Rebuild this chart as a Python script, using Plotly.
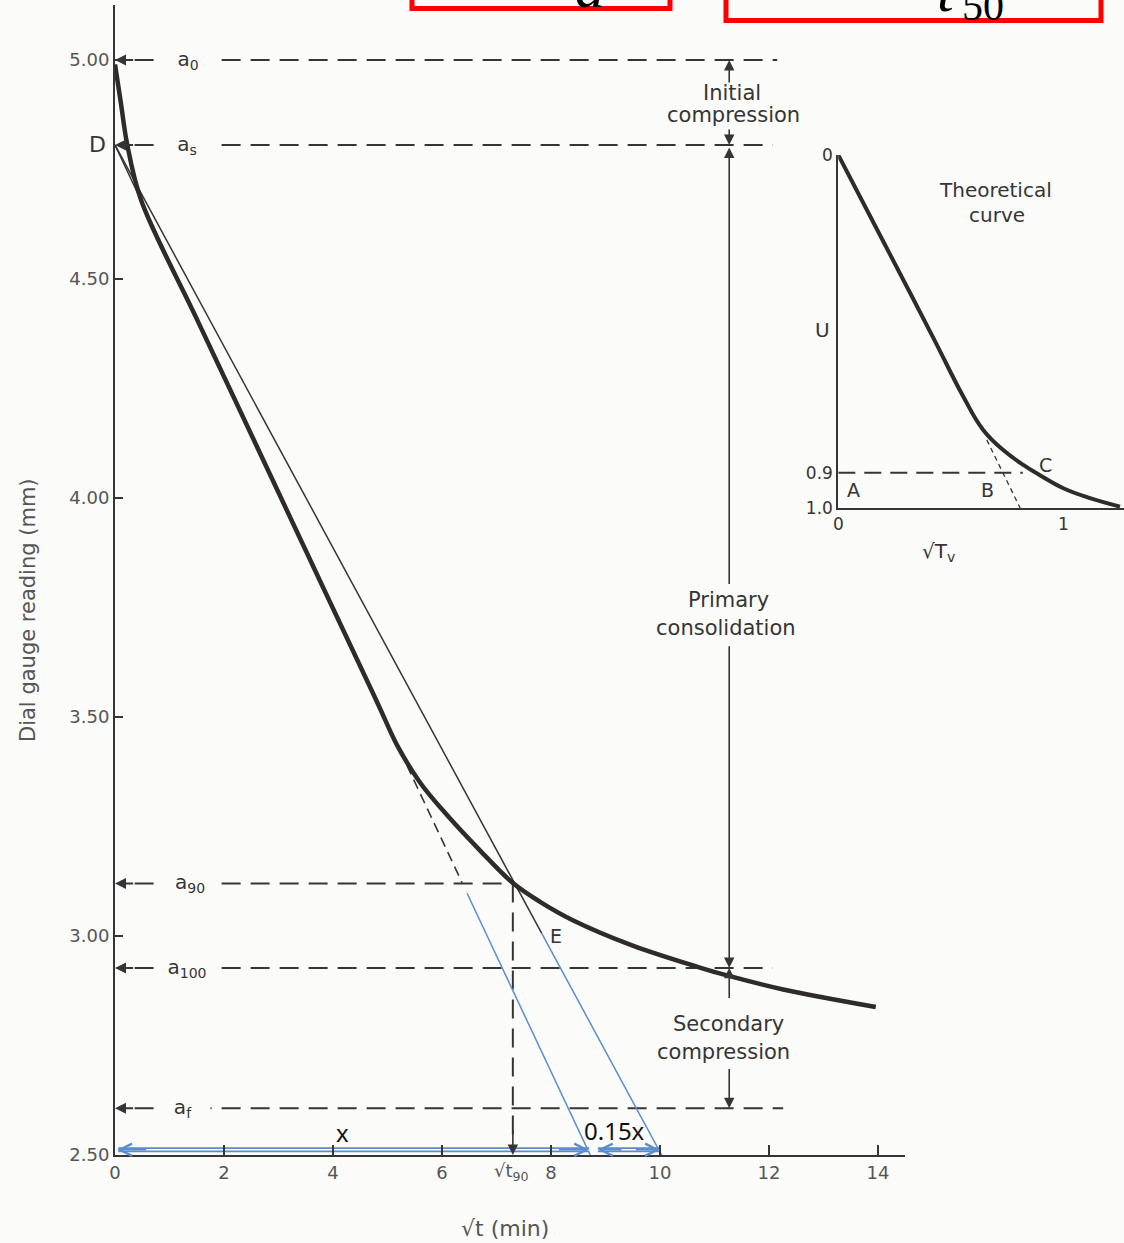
import plotly.graph_objects as go

W, H = 1124, 1243
BG = "#fbfbf9"
INK = "#353535"
GREY = "#555555"
BLUE = "#5b8ccc"
FONT = "DejaVu Sans"

# ---------------- main chart data ----------------
x_ticks = [0, 2, 4, 6, 8, 10, 12, 14]
x_tick_text = ["0", "2", "4", "6", "8", "10", "12", "14"]
y_ticks = [2.5, 3.0, 3.5, 4.0, 4.5, 5.0]
y_tick_text = ["2.50", "3.00", "3.50", "4.00", "4.50", "5.00"]

# dial gauge reading (mm) vs sqrt(t) (min)
curve_x = [0.0, 0.11, 0.22, 0.48, 1.5, 2.5, 3.5, 4.5, 4.85, 5.17, 5.60, 6.10, 6.70,
           7.30, 7.80, 8.40, 9.50, 10.73, 11.23, 12.26, 13.96]
curve_y = [4.99, 4.90, 4.81, 4.68, 4.409, 4.145, 3.88, 3.616, 3.523, 3.437, 3.350, 3.275, 3.195,
           3.121, 3.078, 3.036, 2.978, 2.928, 2.910, 2.878, 2.838]

level_names = ["a<sub>0</sub>", "a<sub>s</sub>", "a<sub>90</sub>", "a<sub>100</sub>", "a<sub>f</sub>"]
level_values = [5.00, 4.806, 3.12, 2.927, 2.607]
level_ends = [12.15, 12.07, 7.34, 12.07, 12.26]
level_label_x = [1.34, 1.32, 1.38, 1.32, 1.25]

D_reading = 4.806          # corrected zero point D
line1_axis_x = 8.72        # first straight line meets the time axis (x)
line2_axis_x = 10.03       # second line, abscissae 1.15 x
sqrt_t90 = 7.30
a90_reading = 3.12
line1_breaks = [5.23, 6.37, 6.46]   # solid -> dashed -> (gap) -> blue
line2_break = 7.83                  # black -> blue
comp_x = 11.27                      # x of the compression arrows

# ---------------- inset (theoretical curve) ----------------
inset_x = [0, 0.20, 0.42, 0.556, 0.644, 0.733, 0.822, 0.896, 1.0, 1.119, 1.252]
inset_u = [0, 0.245, 0.515, 0.685, 0.779, 0.836, 0.878, 0.907, 0.944, 0.972, 0.996]
inset_u90 = 0.9
inset_u90_end = 0.82
inset_tan_x = [0.66, 0.808]
inset_tan_u = [0.807, 1.0]

# ---------------- geometry of the axes (pixels) ----------------
X0, XS = 115, 54.5        # pixel of x=0 and pixels per unit
Y0, YS = 1155, 438        # pixel of y=2.5 and pixels per unit
X_MAX = 14.5
Y_MAX = 2.5 + (Y0 - 5) / YS
IX0, IXS = 838.3, 225.0   # inset
IY0, IYS = 155.0, 353.0


def pxp(p):
    return p / W


def pyp(p):
    return (H - p) / H


def line_y(x0, y0, x1, y1, x):
    return y0 + (y1 - y0) * (x - x0) / (x1 - x0)


fig = go.Figure()

# dashed reading levels
for v, e in zip(level_values, level_ends):
    fig.add_trace(go.Scatter(x=[0.36, e], y=[v, v], mode="lines",
                             line=dict(color=INK, width=2, dash="19px,10px"),
                             hoverinfo="skip"))

# vertical dashed line at sqrt(t90)
fig.add_trace(go.Scatter(x=[sqrt_t90, sqrt_t90], y=[a90_reading, 2.53], mode="lines",
                         line=dict(color=INK, width=2, dash="19px,10px"), hoverinfo="skip"))

# first construction line (through linear part)
l1 = lambda x: line_y(0, D_reading, line1_axis_x, 2.5, x)
fig.add_trace(go.Scatter(x=[0, line1_breaks[0]], y=[l1(0), l1(line1_breaks[0])], mode="lines",
                         line=dict(color=INK, width=1.5), hoverinfo="skip"))
fig.add_trace(go.Scatter(x=[line1_breaks[0], line1_breaks[1]],
                         y=[l1(line1_breaks[0]), l1(line1_breaks[1])], mode="lines",
                         line=dict(color=INK, width=1.6, dash="10px,6px"), hoverinfo="skip"))
fig.add_trace(go.Scatter(x=[line1_breaks[2], line1_axis_x],
                         y=[l1(line1_breaks[2]), 2.5], mode="lines",
                         line=dict(color=BLUE, width=1.5), hoverinfo="skip"))

# second construction line (1.15 x)
l2 = lambda x: line_y(0, D_reading, line2_axis_x, 2.5, x)
fig.add_trace(go.Scatter(x=[0, line2_break], y=[l2(0), l2(line2_break)], mode="lines",
                         line=dict(color=INK, width=1.5), hoverinfo="skip"))
fig.add_trace(go.Scatter(x=[line2_break, line2_axis_x], y=[l2(line2_break), 2.5], mode="lines",
                         line=dict(color=BLUE, width=1.5), hoverinfo="skip"))

# blue double-line dimension arrows (x and 0.15x)
dim_y = 2.512
for xs in ([0.06, line1_axis_x - 0.02], [line1_axis_x + 0.14, line2_axis_x - 0.03]):
    fig.add_trace(go.Scatter(x=xs, y=[dim_y, dim_y], mode="lines",
                             line=dict(color=BLUE, width=5), hoverinfo="skip"))
    fig.add_trace(go.Scatter(x=xs, y=[dim_y, dim_y], mode="lines",
                             line=dict(color=BG, width=1.6), hoverinfo="skip"))

# laboratory curve
fig.add_trace(go.Scatter(x=curve_x, y=curve_y, mode="lines",
                         line=dict(color="#2f2b2b", width=4.5, shape="spline", smoothing=1.0),
                         hoverinfo="skip"))

# inset
fig.add_trace(go.Scatter(x=[0, inset_u90_end], y=[inset_u90, inset_u90], xaxis="x2", yaxis="y2",
                         mode="lines", line=dict(color=INK, width=2, dash="17px,9px"),
                         hoverinfo="skip"))
fig.add_trace(go.Scatter(x=inset_tan_x, y=inset_tan_u, xaxis="x2", yaxis="y2", mode="lines",
                         line=dict(color=INK, width=1.3, dash="5px,4px"), hoverinfo="skip"))
fig.add_trace(go.Scatter(x=inset_x, y=inset_u, xaxis="x2", yaxis="y2", mode="lines",
                         line=dict(color="#2f2b2b", width=4, shape="spline", smoothing=1.2),
                         hoverinfo="skip"))

ann = []


def arrow(xh, yh, xt, yt, color=INK, head=2, size=1.3, width=1.6, side="end"):
    ann.append(dict(x=xh, y=yh, ax=xt, ay=yt, xref="x", yref="y", axref="x", ayref="y",
                    showarrow=True, arrowhead=head, arrowsize=size, arrowwidth=width,
                    arrowcolor=color, text="", arrowside=side, standoff=0, startstandoff=0))


def text(x, y, s, size=20, color=INK, xref="x", yref="y", family=FONT, **kw):
    d = dict(x=x, y=y, xref=xref, yref=yref, text=s, showarrow=False,
             xanchor="center", yanchor="middle",
             font=dict(size=size, color=color, family=family))
    d.update(kw)
    ann.append(d)


# level arrows + labels
for name, v, lx in zip(level_names, level_values, level_label_x):
    arrow(0, v, 0.36, v, width=2, size=1.1)
    text(lx, v, name, size=20, bgcolor=BG, width=50, borderpad=2)

text(pxp(97), pyp(145), "D", size=22, xref="paper", yref="paper")

# t90 arrow
arrow(sqrt_t90, 2.5, sqrt_t90, 2.56)

# compression arrows
arrow(comp_x, 5.00, comp_x, 4.945)
arrow(comp_x, 4.806, comp_x, 4.845)
arrow(comp_x, 4.80, comp_x, 3.80)
arrow(comp_x, 2.927, comp_x, 3.665)
arrow(comp_x, 2.927, comp_x, 2.855)
arrow(comp_x, 2.607, comp_x, 2.70)

text(11.32, 2.5 + (Y0 - 93) / YS, "Initial", size=21)
text(11.34, 2.5 + (Y0 - 115) / YS, "compression", size=21)
text(11.25, 2.5 + (Y0 - 600) / YS, "Primary", size=21)
text(11.21, 2.5 + (Y0 - 628) / YS, "consolidation", size=21)
text(11.25, 2.5 + (Y0 - 1024) / YS, "Secondary", size=21)
text(11.17, 2.5 + (Y0 - 1052) / YS, "compression", size=21)

text(8.09, 3.0, "E", size=19)

# blue dimension arrowheads
arrow(0.04, dim_y, 0.6, dim_y, color=BLUE, head=5, size=1.6, width=1.5)
arrow(line1_axis_x - 0.02, dim_y, line1_axis_x - 0.6, dim_y, color=BLUE, head=5, size=1.6, width=1.5)
arrow(line1_axis_x + 0.14, dim_y, line1_axis_x + 0.6, dim_y, color=BLUE, head=5, size=1.6, width=1.5)
arrow(line2_axis_x - 0.03, dim_y, line2_axis_x - 0.5, dim_y, color=BLUE, head=5, size=1.6, width=1.5)
text(4.18, 2.552, "x", size=24, color="#111", family="Noto Sans")
text(9.17, 2.556, "0.15x", size=24, color="#111", family="Noto Sans")

# axis texts
text(pxp(511), pyp(1172), "√t<sub>90</sub>", size=18, color=GREY, xref="paper", yref="paper")
text(pxp(505), pyp(1228), "√t (min)", size=22, color=GREY, xref="paper", yref="paper")
text(pxp(28), pyp(610), "Dial gauge reading (mm)", size=21, color=GREY,
     xref="paper", yref="paper", textangle=-90)

# inset texts
text(pxp(822), pyp(330), "U", size=20, xref="paper", yref="paper")
text(pxp(853), pyp(490), "A", size=19, xref="paper", yref="paper")
text(pxp(988), pyp(490), "B", size=19, xref="paper", yref="paper")
text(pxp(1045), pyp(465), "C", size=19, xref="paper", yref="paper")
text(pxp(938), pyp(552), "√T<sub>v</sub>", size=20, xref="paper", yref="paper")
text(pxp(995), pyp(190), "Theoretical", size=20, xref="paper", yref="paper")
text(pxp(997), pyp(215), "curve", size=20, xref="paper", yref="paper")

# cropped red-boxed symbols at the very top
text(pxp(590), pyp(22), "<i>a</i>", size=60, color="#000", xref="paper", yref="paper",
     family="Liberation Serif", yanchor="bottom")
text(pxp(946), pyp(26), "<i>t</i>", size=60, color="#000", xref="paper", yref="paper",
     family="Liberation Serif", yanchor="bottom")
text(pxp(983), pyp(31), "50", size=42, color="#000", xref="paper", yref="paper",
     family="Liberation Serif", yanchor="bottom")

shapes = [
    dict(type="rect", xref="paper", yref="paper", x0=pxp(412), x1=pxp(670), y0=pyp(8.5), y1=1.05,
         line=dict(color="#ff0000", width=5)),
    dict(type="rect", xref="paper", yref="paper", x0=pxp(726), x1=pxp(1101), y0=pyp(20.5), y1=1.05,
         line=dict(color="#ff0000", width=5)),
]

fig.update_layout(
    width=W, height=H, autosize=False,
    margin=dict(l=0, r=0, t=0, b=0),
    paper_bgcolor=BG, plot_bgcolor="rgba(0,0,0,0)",
    showlegend=False,
    font=dict(family=FONT, color=GREY),
    xaxis=dict(domain=[X0 / W, (X0 + XS * X_MAX) / W], range=[0, X_MAX], anchor="y",
               showgrid=False, zeroline=False, showline=True, linecolor=INK, linewidth=2,
               ticks="inside", ticklen=10, tickwidth=1.5, tickcolor=INK, automargin=False,
               tickvals=x_ticks, ticktext=x_tick_text,
               tickfont=dict(size=18, color=GREY, family=FONT)),
    yaxis=dict(domain=[(H - Y0) / H, (H - 5) / H], range=[2.5, Y_MAX], anchor="x",
               showgrid=False, zeroline=False, showline=True, linecolor=INK, linewidth=2,
               ticks="inside", ticklen=8, tickwidth=1.5, tickcolor=INK, automargin=False,
               tickvals=y_ticks, ticktext=y_tick_text,
               tickfont=dict(size=18, color=GREY, family=FONT)),
    xaxis2=dict(domain=[IX0 / W, 1.0], range=[0, (W - IX0) / IXS], anchor="y2",
                showgrid=False, zeroline=False, showline=True, linecolor=INK, linewidth=2,
                ticks="", automargin=False,
                tickvals=[0, 1], ticktext=["0", "1"],
                tickfont=dict(size=17, color=INK, family=FONT)),
    yaxis2=dict(domain=[(H - (IY0 + IYS)) / H, (H - IY0) / H], range=[1.0, 0], anchor="x2",
                showgrid=False, zeroline=False, showline=True, linecolor=INK, linewidth=2,
                ticks="", automargin=False,
                tickvals=[0, 0.9, 1.0], ticktext=["0", "0.9", "1.0"],
                tickfont=dict(size=17, color=INK, family=FONT)),
    annotations=ann,
    shapes=shapes,
)

fig.write_html(
    "out.html",
    config={"responsive": False, "displayModeBar": False},
    default_width="1124px", default_height="1243px",
    post_script="document.body.style.margin='0';document.body.style.overflow='hidden';",
)
